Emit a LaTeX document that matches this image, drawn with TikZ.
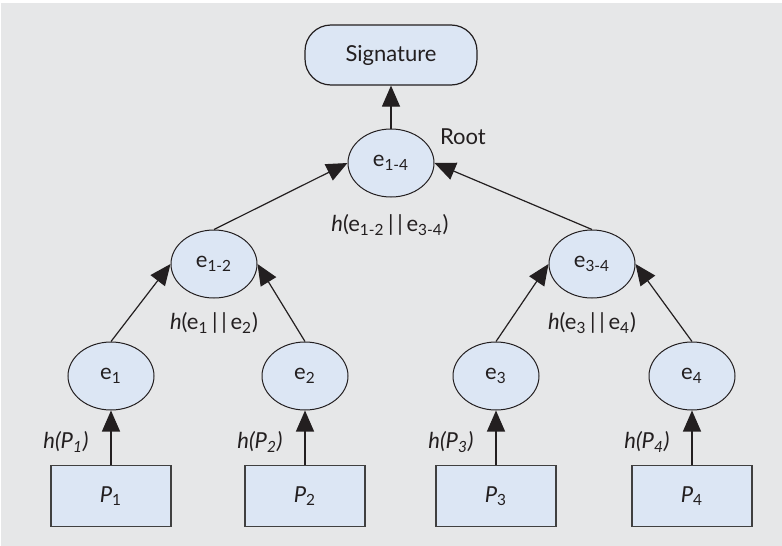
\documentclass[tikz,border=0pt]{standalone}
\usepackage{fontspec}
\setmainfont{Lato}
\usetikzlibrary{arrows.meta,shapes.geometric}

\definecolor{bggray}{HTML}{E6E7E8}
\definecolor{nodeblue}{HTML}{DCE6F4}
\definecolor{ink}{HTML}{231F20}

\newcommand{\cat}{\,|\,|\,}

\begin{document}
\begin{tikzpicture}[x=0.5pt,y=-0.5pt,
    every node/.style={font=\fontsize{11}{13}\selectfont, text=ink},
    hashnode/.style={ellipse, draw=ink, fill=nodeblue, line width=0.5pt,
        minimum width=43pt, minimum height=34pt, inner sep=0pt},
    blockbox/.style={rectangle, draw=black!75, fill=nodeblue, line width=0.75pt,
        minimum width=60pt, minimum height=30.5pt, inner sep=0pt},
    sigbox/.style={rectangle, rounded corners=13pt, draw=ink, fill=nodeblue,
        line width=0.6pt, minimum width=86pt, minimum height=30pt},
    link/.style={draw=ink, line width=0.6pt, -{Triangle[length=10.5pt,width=9pt]}}]

    % background
    \fill[white] (0,0) rectangle (782,546);
    \fill[bggray] (1,3) rectangle (782,546);
    \useasboundingbox (0,0) rectangle (782,546);

    % top of the tree
    \node[sigbox] (sig) at (391,55) {Signature};
    \node[hashnode] (e14) at (391,163) {e\textsubscript{1-4}};
    \node (root) at (463,137) {Root};
    \node (h14) at (390,225) {\textit{h}(e\textsubscript{1-2}\cat e\textsubscript{3-4})};

    \node[hashnode] (e12) at (214,264) {e\textsubscript{1-2}};
    \node[hashnode] (e34) at (592,264) {e\textsubscript{3-4}};
    \node (h12) at (214,323) {\textit{h}(e\textsubscript{1}\cat e\textsubscript{2})};
    \node (h34) at (592,323) {\textit{h}(e\textsubscript{3}\cat e\textsubscript{4})};

    % leaves and blocks
    \foreach \i/\x in {1/111,2/305,3/496,4/692}{
        \node[hashnode] (e\i) at (\x,376) {e\textsubscript{\i}};
        \node[blockbox] (P\i) at (\x,496) {\textit{P}\textsubscript{\i}};
        \node (hP\i) at (\x-45,442) {\textit{h(P\textsubscript{\i})}};
        \draw[link] (P\i) -- (e\i);
    }

    \draw[link] (e1.north) -- (e12.west);
    \draw[link] (e2.north) -- (e12.east);
    \draw[link] (e3.north) -- (e34.west);
    \draw[link] (e4.north) -- (e34.east);
    \draw[link] (e12.north) -- (e14.west);
    \draw[link] (e34.north) -- (e14.east);
    \draw[link] (e14) -- (sig);
\end{tikzpicture}
\end{document}
